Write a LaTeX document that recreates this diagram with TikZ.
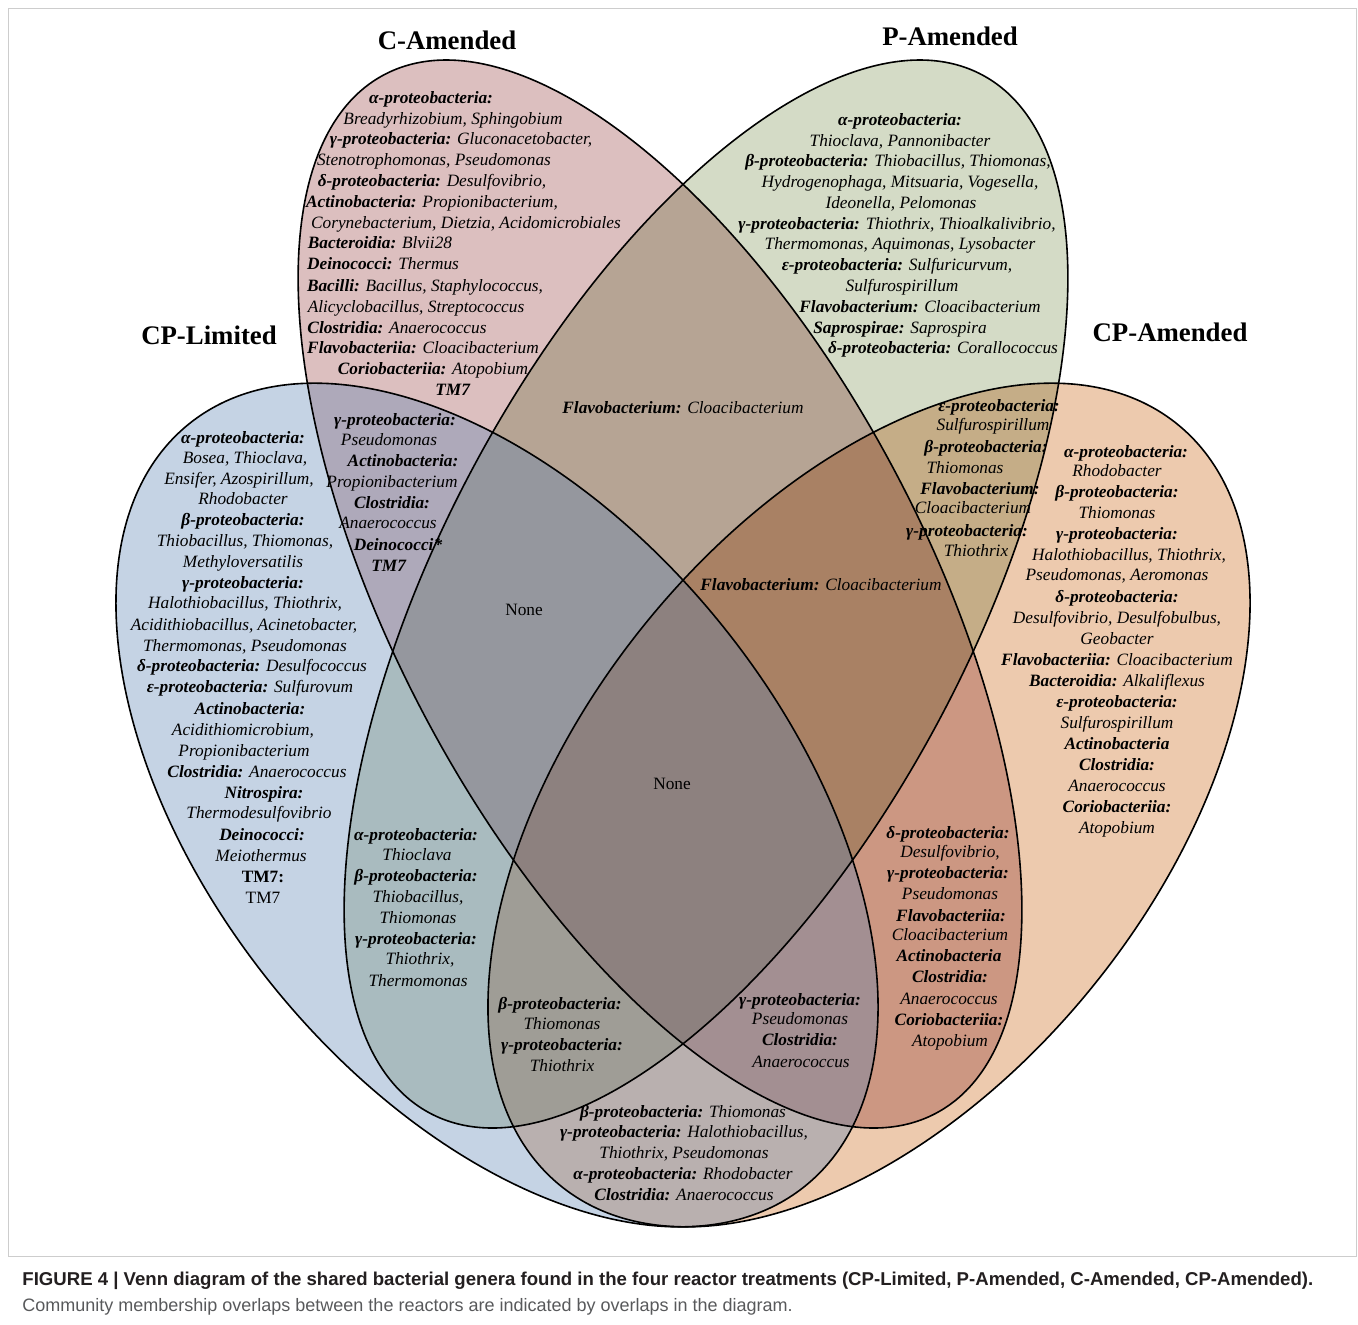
\documentclass[tikz,border=0pt]{standalone}
\usepackage{fontspec}
\setmainfont{Liberation Serif}
\newfontfamily\captionfont{Liberation Sans}
\definecolor{limited}{RGB}{89,129,178}
\definecolor{camend}{RGB}{220,191,191}
\definecolor{pamend}{RGB}{212,219,198}
\definecolor{cpamend}{RGB}{237,202,174}
\definecolor{framegray}{RGB}{205,205,205}
\definecolor{capdark}{RGB}{35,31,32}
\definecolor{capgray}{RGB}{88,89,91}
\newcommand{\cls}[1]{\textbf{\textit{#1}}}
\newcommand{\gen}[1]{\textit{#1}}

\begin{document}
\begin{tikzpicture}[x=0.5pt, y=-0.5pt,
    taxon/.style={anchor=base, inner sep=0pt, yshift=-2.5pt, font=\fontsize{8.65}{10}\selectfont},
    setname/.style={inner sep=0pt, font=\fontsize{13.4}{16}\selectfont\bfseries}]
  \useasboundingbox (0,0) rectangle (1358,1324);
  \draw[framegray, line width=0.4pt] (8,8) rectangle (1356,1256);
  % the four reactor sets: C-Amended, P-Amended, CP-Amended, then CP-Limited on top
  \foreach \cx/\cy/\ang/\rx/\ry/\col in {660/594/-62/588/265/camend,
                                         706/594/62/588/265/pamend,
                                         869/805/51/490/288/cpamend} {
    \fill[\col, blend mode=multiply, rotate around={\ang:(\cx,\cy)}]
      (\cx,\cy) ellipse [x radius=\rx, y radius=\ry];
  }
  \fill[limited, fill opacity=0.35, rotate around={-51:(497,805)}]
    (497,805) ellipse [x radius=490, y radius=288];
  \foreach \cx/\cy/\ang/\rx/\ry in {497/805/-51/490/288, 660/594/-62/588/265,
                                    706/594/62/588/265, 869/805/51/490/288} {
    \draw[line width=0.8pt, rotate around={\ang:(\cx,\cy)}]
      (\cx,\cy) ellipse [x radius=\rx, y radius=\ry];
  }
  % set names
  \node[setname] (nameC) at (447,40) {C-Amended};
  \node[setname] (nameP) at (950,36) {P-Amended};
  \node[setname] (nameLim) at (209,335) {CP-Limited};
  \node[setname] (nameCP) at (1170,332) {CP-Amended};
  % C-Amended only
  \foreach \x/\y/\t [count=\i] in {
      431/98/{\cls{α-proteobacteria:}},
      453/119/{\gen{Breadyrhizobium, Sphingobium}},
      461/139/{\cls{γ-proteobacteria:} \gen{Gluconacetobacter,}},
      434/160/{\gen{Stenotrophomonas, Pseudomonas}},
      432/181/{\cls{δ-proteobacteria:} \gen{Desulfovibrio,}},
      432/202/{\cls{Actinobacteria:} \gen{Propionibacterium,}},
      466/223/{\gen{Corynebacterium, Dietzia, Acidomicrobiales}},
      380/243/{\cls{Bacteroidia:} \gen{Blvii28}},
      383/264/{\cls{Deinococci:} \gen{Thermus}},
      425/286/{\cls{Bacilli:} \gen{Bacillus, Staphylococcus,}},
      416/307/{\gen{Alicyclobacillus, Streptococcus}},
      397/328/{\cls{Clostridia:} \gen{Anaerococcus}},
      423/348/{\cls{Flavobacteriia:} \gen{Cloacibacterium}},
      433/369/{\cls{Coriobacteriia:} \gen{Atopobium}},
      453/390/{\cls{TM7}}}
    \node[taxon] (conly\i) at (\x,\y) {\t};
  % P-Amended only
  \foreach \x/\y/\t [count=\i] in {
      900/120/{\cls{α-proteobacteria:}},
      900/141/{\gen{Thioclava, Pannonibacter}},
      898/161/{\cls{β-proteobacteria:} \gen{Thiobacillus, Thiomonas,}},
      900/182/{\gen{Hydrogenophaga, Mitsuaria, Vogesella,}},
      901/203/{\gen{Ideonella, Pelomonas}},
      897/224/{\cls{γ-proteobacteria:} \gen{Thiothrix, Thioalkalivibrio,}},
      900/244/{\gen{Thermomonas, Aquimonas, Lysobacter}},
      897/265/{\cls{ε-proteobacteria:} \gen{Sulfuricurvum,}},
      902/286/{\gen{Sulfurospirillum}},
      920/307/{\cls{Flavobacterium:} \gen{Cloacibacterium}},
      900/328/{\cls{Saprospirae:} \gen{Saprospira}},
      943/348/{\cls{δ-proteobacteria:} \gen{Corallococcus}}}
    \node[taxon] (ponly\i) at (\x,\y) {\t};
  % CP-Limited only
  \foreach \x/\y/\t [count=\i] in {
      243/438/{\cls{α-proteobacteria:}},
      245/458/{\gen{Bosea, Thioclava,}},
      239/479/{\gen{Ensifer, Azospirillum,}},
      243/499/{\gen{Rhodobacter}},
      243/520/{\cls{β-proteobacteria:}},
      245/541/{\gen{Thiobacillus, Thiomonas,}},
      243/562/{\gen{Methyloversatilis}},
      243/583/{\cls{γ-proteobacteria:}},
      245/603/{\gen{Halothiobacillus, Thiothrix,}},
      244/625/{\gen{Acidithiobacillus, Acinetobacter,}},
      245/646/{\gen{Thermomonas, Pseudomonas}},
      252/666/{\cls{δ-proteobacteria:} \gen{Desulfococcus}},
      250/687/{\cls{ε-proteobacteria:} \gen{Sulfurovum}},
      250/709/{\cls{Actinobacteria:}},
      243/730/{\gen{Acidithiomicrobium,}},
      244/751/{\gen{Propionibacterium}},
      257/772/{\cls{Clostridia:} \gen{Anaerococcus}},
      264/793/{\cls{Nitrospira:}},
      259/813/{\gen{Thermodesulfovibrio}},
      262/835/{\cls{Deinococci:}},
      261/856/{\gen{Meiothermus}},
      263/877/{\textbf{TM7:}},
      263/898/{TM7}}
    \node[taxon] (limonly\i) at (\x,\y) {\t};
  % CP-Amended only
  \foreach \x/\y/\t [count=\i] in {
      1126/452/{\cls{α-proteobacteria:}},
      1117/471/{\gen{Rhodobacter}},
      1117/492/{\cls{β-proteobacteria:}},
      1117/513/{\gen{Thiomonas}},
      1117/534/{\cls{γ-proteobacteria:}},
      1129/555/{\gen{Halothiobacillus, Thiothrix,}},
      1117/575/{\gen{Pseudomonas, Aeromonas}},
      1117/597/{\cls{δ-proteobacteria:}},
      1117/618/{\gen{Desulfovibrio, Desulfobulbus,}},
      1117/639/{\gen{Geobacter}},
      1117/660/{\cls{Flavobacteriia:} \gen{Cloacibacterium}},
      1117/681/{\cls{Bacteroidia:} \gen{Alkaliflexus}},
      1117/702/{\cls{ε-proteobacteria:}},
      1117/723/{\gen{Sulfurospirillum}},
      1117/744/{\cls{Actinobacteria}},
      1117/765/{\cls{Clostridia:}},
      1117/786/{\gen{Anaerococcus}},
      1117/807/{\cls{Coriobacteriia:}},
      1117/828/{\gen{Atopobium}}}
    \node[taxon] (cponly\i) at (\x,\y) {\t};
  % CP-Limited and C-Amended
  \foreach \x/\y/\t [count=\i] in {
      395/420/{\cls{γ-proteobacteria:}},
      389/440/{\gen{Pseudomonas}},
      403/461/{\cls{Actinobacteria:}},
      392/482/{\gen{Propionibacterium}},
      392/503/{\cls{Clostridia:}},
      388/523/{\gen{Anaerococcus}},
      398/545/{\cls{Deinococci*}},
      389/566/{\cls{TM7}}}
    \node[taxon] (limc\i) at (\x,\y) {\t};
  % P-Amended and CP-Amended
  \foreach \x/\y/\t [count=\i] in {
      999/406/{\cls{ε-proteobacteria:}},
      993/425/{\gen{Sulfurospirillum}},
      986/447/{\cls{β-proteobacteria:}},
      965/468/{\gen{Thiomonas}},
      980/489/{\cls{Flavobacterium:}},
      973/508/{\gen{Cloacibacterium}},
      967/531/{\cls{γ-proteobacteria:}},
      976/551/{\gen{Thiothrix}}}
    \node[taxon] (pcp\i) at (\x,\y) {\t};
  % CP-Limited and P-Amended
  \foreach \x/\y/\t [count=\i] in {
      416/835/{\cls{α-proteobacteria:}},
      417/855/{\gen{Thioclava}},
      416/876/{\cls{β-proteobacteria:}},
      418/897/{\gen{Thiobacillus,}},
      418/918/{\gen{Thiomonas}},
      416/939/{\cls{γ-proteobacteria:}},
      420/959/{\gen{Thiothrix,}},
      418/981/{\gen{Thermomonas}}}
    \node[taxon] (limp\i) at (\x,\y) {\t};
  % C-Amended and CP-Amended
  \foreach \x/\y/\t [count=\i] in {
      948/833/{\cls{δ-proteobacteria:}},
      950/852/{\gen{Desulfovibrio,}},
      948/873/{\cls{γ-proteobacteria:}},
      950/894/{\gen{Pseudomonas}},
      951/916/{\cls{Flavobacteriia:}},
      950/935/{\gen{Cloacibacterium}},
      949/956/{\cls{Actinobacteria}},
      950/977/{\cls{Clostridia:}},
      949/999/{\gen{Anaerococcus}},
      949/1020/{\cls{Coriobacteriia:}},
      950/1041/{\gen{Atopobium}}}
    \node[taxon] (ccp\i) at (\x,\y) {\t};
  % CP-Limited, P-Amended and CP-Amended
  \foreach \x/\y/\t [count=\i] in {
      560/1004/{\cls{β-proteobacteria:}},
      562/1024/{\gen{Thiomonas}},
      562/1045/{\cls{γ-proteobacteria:}},
      562/1066/{\gen{Thiothrix}}}
    \node[taxon] (limpcp\i) at (\x,\y) {\t};
  % CP-Limited, C-Amended and CP-Amended
  \foreach \x/\y/\t [count=\i] in {
      800/1000/{\cls{γ-proteobacteria:}},
      800/1019/{\gen{Pseudomonas}},
      800/1040/{\cls{Clostridia:}},
      801/1062/{\gen{Anaerococcus}}}
    \node[taxon] (limccp\i) at (\x,\y) {\t};
  % CP-Limited and CP-Amended
  \foreach \x/\y/\t [count=\i] in {
      683/1112/{\cls{β-proteobacteria:} \gen{Thiomonas}},
      684/1132/{\cls{γ-proteobacteria:} \gen{Halothiobacillus,}},
      684/1153/{\gen{Thiothrix, Pseudomonas}},
      683/1174/{\cls{α-proteobacteria:} \gen{Rhodobacter}},
      684/1195/{\cls{Clostridia:} \gen{Anaerococcus}}}
    \node[taxon] (limcp\i) at (\x,\y) {\t};
  % single-line regions
  \node[taxon] (cp) at (683,408) {\cls{Flavobacterium:} \gen{Cloacibacterium}};
  \node[taxon] (cpcp) at (821,585) {\cls{Flavobacterium:} \gen{Cloacibacterium}};
  \node[taxon] (limcpnone) at (524,610) {None};
  \node[taxon] (allnone) at (672,784) {None};
  % caption
  \node[anchor=base west, inner sep=0pt, text=capdark,
        font=\captionfont\bfseries\fontsize{9.3}{11}\selectfont] (caption1) at (22,1285)
    {FIGURE 4 | Venn diagram of the shared bacterial genera found in the four reactor treatments (CP-Limited, P-Amended, C-Amended, CP-Amended).};
  \node[anchor=base west, inner sep=0pt, text=capgray,
        font=\captionfont\fontsize{9}{11}\selectfont] (caption2) at (22,1311)
    {Community membership overlaps between the reactors are indicated by overlaps in the diagram.};
\end{tikzpicture}
\end{document}
